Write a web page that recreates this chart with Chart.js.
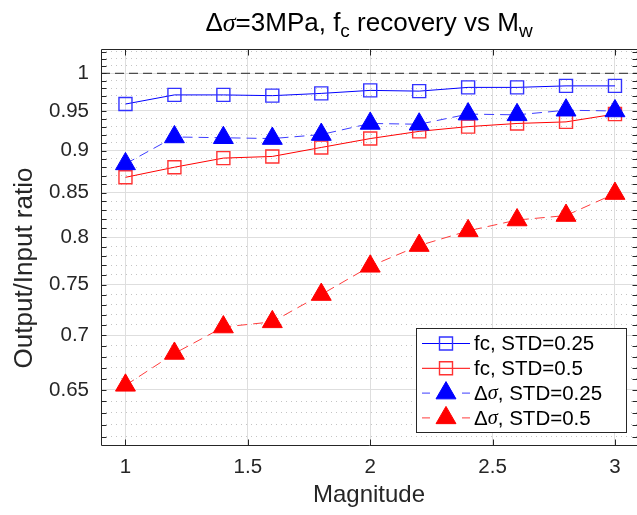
<!DOCTYPE html>
<html>
<head>
<meta charset="utf-8">
<script src="https://cdn.jsdelivr.net/npm/chart.js@4.4.1/dist/chart.umd.min.js"></script>
<style>
  html, body { margin: 0; padding: 0; background: #fff; }
  #wrap { width: 637px; height: 515px; }
</style>
</head>
<body>
<div id="wrap"><canvas id="myChart" width="637" height="515"></canvas></div>
<script>
// values
const magnitudes = [1, 1.2, 1.4, 1.6, 1.8, 2, 2.2, 2.4, 2.6, 2.8, 3];
const fcStd025 = [0.959, 0.971, 0.971, 0.970, 0.973, 0.977, 0.976, 0.981, 0.981, 0.983, 0.983];
const fcStd05 = [0.868, 0.880, 0.891, 0.893, 0.904, 0.915, 0.924, 0.930, 0.934, 0.936, 0.946];
const dsStd025 = [0.884, 0.917, 0.916, 0.915, 0.920, 0.934, 0.933, 0.946, 0.945, 0.951, 0.950];
const dsStd05 = [0.654, 0.683, 0.708, 0.713, 0.740, 0.769, 0.791, 0.807, 0.819, 0.824, 0.849];

// reference line at ratio = 1
const refX = [0.9, 3.1];
const refY = [1, 1];

const xTicks = [1, 1.5, 2, 2.5, 3];
const xTickLabels = ['1', '1.5', '2', '2.5', '3'];
const yTicks = [0.65, 0.7, 0.75, 0.8, 0.85, 0.9, 0.95, 1];
const yTickLabels = ['0.65', '0.7', '0.75', '0.8', '0.85', '0.9', '0.95', '1'];
const yMinorTicks = [0.61, 0.62, 0.63, 0.64, 0.66, 0.67, 0.68, 0.69, 0.71, 0.72, 0.73, 0.74,
  0.76, 0.77, 0.78, 0.79, 0.81, 0.82, 0.83, 0.84, 0.86, 0.87, 0.88, 0.89, 0.91, 0.92, 0.93, 0.94,
  0.96, 0.97, 0.98, 0.99, 1.01, 1.02, 1.03];

const xMin = 0.9, xMax = 3.09;
const yMin = 0.603, yMax = 1.0336;

const axisColor = '#262626';
const fontFam = '"Liberation Sans", Arial, Helvetica, sans-serif';
const tickSize = 20.5;

Chart.defaults.font.family = fontFam;
Chart.defaults.color = axisColor;

function pts(ys) {
  return magnitudes.map((m, i) => ({x: m, y: ys[i]}));
}

// box round the axes with inward ticks, like matlab
const axesBox = {
  id: 'axesBox',
  beforeDatasetsDraw(chart) {
    const {ctx, chartArea: a, scales} = chart;
    const L = Math.round(a.left) + 0.5, R = Math.round(a.right) + 0.5;
    const T = Math.round(a.top) + 0.5, B = Math.round(a.bottom) + 0.5;
    ctx.save();
    ctx.strokeStyle = axisColor;
    ctx.lineWidth = 1;
    ctx.beginPath();
    ctx.rect(L, T, R - L, B - T);
    yTicks.concat(yMinorTicks).forEach(v => {
      const y = Math.round(scales.y.getPixelForValue(v)) + 0.5;
      ctx.moveTo(L, y); ctx.lineTo(L + 5, y);
      ctx.moveTo(R, y); ctx.lineTo(R - 5, y);
    });
    xTicks.forEach(v => {
      const x = Math.round(scales.x.getPixelForValue(v)) + 0.5;
      ctx.moveTo(x, B); ctx.lineTo(x, B - 6);
      ctx.moveTo(x, T); ctx.lineTo(x, T + 6);
    });
    ctx.stroke();

    // y axis label, drawn here so it can sit where matlab put it
    ctx.fillStyle = axisColor;
    ctx.font = '26px ' + fontFam;
    ctx.textAlign = 'center';
    ctx.textBaseline = 'middle';
    ctx.translate(25, 268);
    ctx.rotate(-Math.PI / 2);
    ctx.fillText('Output/Input ratio', 0, 0);
    ctx.restore();
  }
};

// draws a run of text where 'σ' is italic
function drawMixed(ctx, text, x, y, size) {
  const parts = text.split('σ');
  parts.forEach((p, i) => {
    ctx.font = size + 'px ' + fontFam;
    ctx.fillText(p, x, y);
    x += ctx.measureText(p).width;
    if (i < parts.length - 1) {
      ctx.font = 'italic ' + size + 'px "Liberation Serif", serif';
      ctx.fillText('σ', x, y);
      x += ctx.measureText('σ').width;
    }
  });
  return x;
}

function measureMixed(ctx, text, size) {
  let tw = 0;
  text.split('σ').forEach((p, i, arr) => {
    ctx.font = size + 'px ' + fontFam;
    tw += ctx.measureText(p).width;
    if (i < arr.length - 1) {
      ctx.font = 'italic ' + size + 'px "Liberation Serif", serif';
      tw += ctx.measureText('σ').width;
    }
  });
  return tw;
}

const titlePlugin = {
  id: 'mixedTitle',
  afterDraw(chart) {
    const {ctx, chartArea: a} = chart;
    const big = 26, small = 19;
    const parts = [
      {t: 'Δσ=3MPa, f', s: big, dy: 0},
      {t: 'c', s: small, dy: 6},
      {t: ' recovery vs M', s: big, dy: 0},
      {t: 'w', s: small, dy: 6}
    ];
    ctx.save();
    ctx.fillStyle = '#000';
    ctx.textBaseline = 'alphabetic';
    ctx.textAlign = 'left';
    let w = 0;
    parts.forEach(p => { w += measureMixed(ctx, p.t, p.s); });
    let x = (a.left + a.right) / 2 - w / 2;
    const y = 31;
    parts.forEach(p => { x = drawMixed(ctx, p.t, x, y + p.dy, p.s); });
    ctx.restore();
  }
};

const legendPlugin = {
  id: 'boxLegend',
  afterDraw(chart) {
    const {ctx, chartArea: a} = chart;
    const items = chart.data.datasets.filter(d => d.label);
    const boxW = 210, rowH = 24.8;
    const boxH = 104;
    const x0 = Math.round(a.right - 11 - boxW) + 0.5;
    const y0 = Math.round(a.bottom - 13 - boxH) + 0.5;
    ctx.save();
    ctx.fillStyle = '#fff';
    ctx.strokeStyle = axisColor;
    ctx.lineWidth = 1;
    ctx.fillRect(x0, y0, boxW, boxH);
    ctx.strokeRect(x0, y0, boxW, boxH);
    items.forEach((d, i) => {
      const cy = y0 + 15 + i * rowH;
      const lx0 = x0 + 5.5, lx1 = x0 + 53.5, mx = (lx0 + lx1) / 2;
      ctx.strokeStyle = d.borderColor;
      ctx.lineWidth = d.borderWidth;
      ctx.beginPath();
      if (d.borderDash) {
        ctx.moveTo(lx0, cy); ctx.lineTo(lx0 + 8, cy);
        ctx.moveTo(lx1 - 8, cy); ctx.lineTo(lx1, cy);
      } else {
        ctx.moveTo(lx0, cy); ctx.lineTo(lx1, cy);
      }
      ctx.stroke();
      ctx.lineWidth = d.pointBorderWidth;
      ctx.strokeStyle = d.pointBorderColor;
      ctx.fillStyle = d.pointBackgroundColor;
      ctx.beginPath();
      if (d.pointStyle === 'rect') {
        const h = d.pointRadius * Math.SQRT1_2;
        ctx.rect(mx - h, cy - h, 2 * h, 2 * h);
      } else {
        const r = d.pointRadius;
        ctx.moveTo(mx, cy - r);
        ctx.lineTo(mx + r * 0.866, cy + r / 2);
        ctx.lineTo(mx - r * 0.866, cy + r / 2);
        ctx.closePath();
      }
      ctx.fill();
      ctx.stroke();
      ctx.fillStyle = '#000';
      ctx.textBaseline = 'middle';
      ctx.textAlign = 'left';
      drawMixed(ctx, d.label, x0 + 57.5, cy + 1, tickSize);
    });
    ctx.restore();
  }
};

const ctx = document.getElementById('myChart').getContext('2d');

const myChart = new Chart(ctx, {
  type: 'line',
  data: {
    datasets: [
      {
        label: 'fc, STD=0.25',
        data: pts(fcStd025),
        order: 4,
        borderColor: 'rgb(0,0,255)',
        borderWidth: 1,
        pointStyle: 'rect',
        pointRadius: 9.2,
        pointBorderWidth: 1.4,
        pointBorderColor: 'rgb(50,50,255)',
        pointBackgroundColor: 'rgba(0,0,0,0)'
      },
      {
        label: 'fc, STD=0.5',
        data: pts(fcStd05),
        order: 3,
        borderColor: 'rgb(255,0,0)',
        borderWidth: 1,
        pointStyle: 'rect',
        pointRadius: 9.2,
        pointBorderWidth: 1.4,
        pointBorderColor: 'rgb(255,50,50)',
        pointBackgroundColor: 'rgba(0,0,0,0)'
      },
      {
        label: 'Δσ, STD=0.25',
        data: pts(dsStd025),
        order: 2,
        borderColor: 'rgb(60,60,255)',
        borderWidth: 1,
        borderDash: [10, 6],
        pointStyle: 'triangle',
        pointRadius: 11.5,
        pointBorderWidth: 1,
        pointBorderColor: 'rgb(0,0,255)',
        pointBackgroundColor: 'rgb(0,0,255)'
      },
      {
        label: 'Δσ, STD=0.5',
        data: pts(dsStd05),
        order: 1,
        borderColor: 'rgb(255,60,60)',
        borderWidth: 1,
        borderDash: [10, 6],
        pointStyle: 'triangle',
        pointRadius: 11.5,
        pointBorderWidth: 1,
        pointBorderColor: 'rgb(255,0,0)',
        pointBackgroundColor: 'rgb(255,0,0)'
      },
      {
        label: '',
        data: refX.map((v, i) => ({x: v, y: refY[i]})),
        order: 5,
        borderColor: '#262626',
        borderWidth: 1,
        borderDash: [9, 5],
        pointRadius: 0
      }
    ]
  },
  options: {
    responsive: false,
    animation: false,
    devicePixelRatio: 1,
    events: [],
    layout: { autoPadding: false, padding: { top: 49, right: 0, left: 0, bottom: 0 } },
    plugins: {
      legend: { display: false },
      title: { display: false },
      tooltip: { enabled: false }
    },
    scales: {
      x: {
        type: 'linear',
        min: xMin,
        max: xMax,
        bounds: 'data',
        afterBuildTicks: s => { s.ticks = xTicks.map(v => ({value: v})); },
        afterFit: s => { s.height = 70; s.paddingLeft = 0; s.paddingRight = 0; },
        ticks: {
          autoSkip: false,
          maxRotation: 0,
          padding: 10,
          font: { size: tickSize },
          color: axisColor,
          callback: (v, i) => xTickLabels[i]
        },
        grid: { color: '#dedede', drawTicks: false, lineWidth: 1 },
        border: { display: false },
        title: {
          display: true,
          text: 'Magnitude',
          font: { size: 24 },
          color: axisColor,
          padding: { top: 4, bottom: 5 }
        }
      },
      y: {
        type: 'logarithmic',
        position: 'left',
        min: yMin,
        max: yMax,
        bounds: 'data',
        afterBuildTicks: s => { s.ticks = yTicks.map(v => ({value: v})); },
        afterFit: s => { s.width = 101; s.paddingTop = 0; s.paddingBottom = 0; },
        ticks: {
          autoSkip: false,
          padding: 12,
          font: { size: tickSize },
          color: axisColor,
          callback: (v, i) => yTickLabels[i]
        },
        grid: { color: '#dedede', drawTicks: false, lineWidth: 1 },
        border: { display: false }
      },
      y2: {
        type: 'logarithmic',
        position: 'left',
        min: yMin,
        max: yMax,
        bounds: 'data',
        afterBuildTicks: s => { s.ticks = yMinorTicks.map(v => ({value: v})); },
        afterFit: s => { s.width = 0; s.paddingTop = 0; s.paddingBottom = 0; },
        ticks: { display: false, autoSkip: false },
        grid: { color: '#c4c4c4', drawTicks: false, lineWidth: 1 },
        border: { display: false, dash: [1, 4] }
      }
    }
  },
  plugins: [axesBox, legendPlugin, titlePlugin]
});
</script>
</body>
</html>
